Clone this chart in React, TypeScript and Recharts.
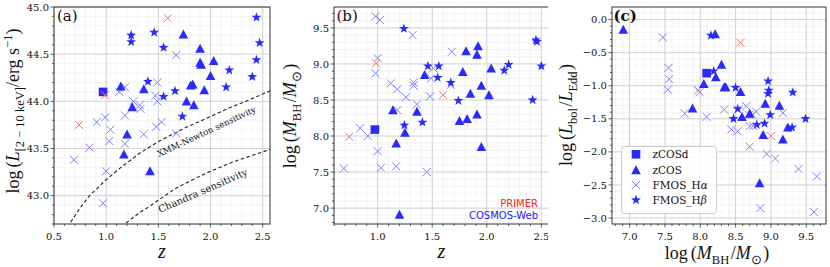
import React from 'react';
import { ScatterChart, Scatter, XAxis, YAxis, CartesianGrid, Customized } from 'recharts';

type Pt = [number, number];

// ---- panel (a): z vs log L_[2-10 keV]
const aSquare: Pt[] = [[0.97, 44.1]];
const aTriangle: Pt[] = [
  [1.74, 44.71], [1.9, 44.56], [1.9, 44.41], [1.91, 44.39], [2.03, 44.43], [2.0, 44.27],
  [1.81, 44.17], [1.83, 44.18], [1.94, 44.12], [1.77, 44.0], [1.84, 43.96], [1.14, 44.16],
  [1.36, 44.13], [1.25, 43.94], [1.2, 43.65], [1.17, 43.44], [1.42, 43.26],
];
const aStar: Pt[] = [
  [1.24, 44.7], [1.24, 44.63], [1.46, 44.73], [1.55, 44.57], [1.4, 44.21], [1.55, 44.05],
  [1.66, 44.11], [1.73, 43.84], [2.44, 44.89], [2.47, 44.62], [2.44, 44.44], [2.18, 44.33],
  [2.4, 44.26], [2.15, 44.15],
];
const aCross: Pt[] = [
  [1.67, 44.49], [1.18, 44.15], [1.125, 44.1], [1.26, 44.0], [1.47, 44.06], [1.49, 44.0],
  [1.49, 44.2], [1.32, 43.96], [1.33, 43.92], [1.18, 43.85], [0.99, 43.83], [0.91, 43.78],
  [1.04, 43.7], [1.36, 43.65], [1.48, 43.73], [1.53, 43.78], [1.67, 43.66], [0.84, 43.51],
  [1.03, 43.58], [1.18, 43.55], [0.69, 43.38], [1.0, 43.26], [0.97, 42.92],
];
const aRed: Pt[] = [[0.74, 43.75], [0.99, 44.065], [1.59, 44.88]];
const xmmLimit: Pt[] = [
  [0.66, 42.72], [0.75, 42.87], [0.84, 43.0], [1.0, 43.17], [1.13, 43.29], [1.32, 43.45],
  [1.51, 43.58], [1.74, 43.71], [2.0, 43.84], [2.2, 43.94], [2.38, 44.02], [2.57, 44.11],
];
const chandraLimit: Pt[] = [
  [1.19, 42.71], [1.32, 42.82], [1.42, 42.89], [1.51, 42.96], [1.67, 43.08], [1.74, 43.12],
  [1.96, 43.24], [2.22, 43.36], [2.57, 43.49],
];

// ---- panel (b): z vs log M_BH
const bSquare: Pt[] = [[0.975, 8.09]];
const bTriangle: Pt[] = [
  [1.81, 9.18], [1.92, 9.25], [1.91, 9.13], [1.78, 8.89], [2.04, 8.94], [1.43, 8.85],
  [1.95, 8.7], [1.85, 8.59], [2.02, 8.57], [1.14, 8.36], [1.36, 8.34], [1.75, 8.21],
  [1.82, 8.24], [1.91, 8.3], [1.25, 8.05], [1.17, 7.9], [1.95, 7.85], [1.2, 6.91],
];
const bStar: Pt[] = [
  [1.24, 9.49], [1.46, 8.97], [1.56, 8.97], [1.55, 8.81], [1.245, 8.15], [1.41, 8.19],
  [1.67, 8.74], [1.74, 8.49], [2.45, 9.33], [2.46, 9.31], [2.16, 8.91], [2.2, 8.99],
  [2.42, 8.5], [2.5, 8.97],
];
const bCross: Pt[] = [
  [0.98, 9.66], [1.02, 9.61], [1.32, 9.4], [1.0, 9.08], [0.98, 8.87], [1.12, 8.73],
  [1.18, 8.65], [1.33, 8.74], [1.33, 8.7], [1.26, 8.54], [1.36, 8.44], [1.18, 8.36],
  [1.68, 9.17], [1.51, 8.94], [1.49, 8.8], [1.67, 8.71], [1.48, 8.55], [0.84, 8.11],
  [0.91, 8.0], [1.0, 7.79], [0.69, 7.55], [1.03, 7.56], [1.17, 7.58], [1.45, 7.5],
];
const bRed: Pt[] = [[0.74, 7.99], [0.985, 9.01], [1.6, 8.57]];

// ---- panel (c): log M_BH vs log Eddington ratio
const cSquare: Pt[] = [[8.09, -0.81]];
const cTriangle: Pt[] = [
  [6.91, -0.15], [8.21, -0.22], [8.3, -0.68], [8.05, -0.97], [8.22, -0.87], [8.34, -1.02],
  [8.36, -1.02], [8.57, -1.09], [7.89, -1.34], [8.59, -1.47], [8.7, -1.42], [8.92, -1.27],
  [9.12, -1.3], [9.24, -1.63], [9.17, -1.81], [8.89, -1.74], [8.84, -2.47],
];
const cStar: Pt[] = [
  [8.15, -0.24], [8.19, -0.78], [8.5, -1.03], [8.47, -1.5], [8.53, -1.35], [8.8, -1.59],
  [8.91, -1.57], [8.96, -0.93], [8.97, -1.07], [8.96, -1.12], [8.99, -1.44], [9.31, -1.1],
  [9.3, -1.63], [9.49, -1.5],
];
const cCross: Pt[] = [
  [7.47, -0.27], [7.55, -0.73], [7.56, -0.9], [7.54, -1.06], [7.97, -1.07], [8.09, -1.47],
  [7.78, -1.42], [8.34, -1.36], [8.44, -1.66], [8.53, -1.69], [8.65, -1.31], [8.69, -1.44],
  [8.74, -1.44], [8.7, -1.61], [8.75, -1.61], [8.79, -1.39], [9.17, -1.41], [8.7, -1.92],
  [8.94, -2.03], [9.06, -2.1], [9.39, -2.26], [9.65, -2.37], [8.85, -2.85], [9.61, -2.91],
  [8.53, -1.36],
];
const cRed: Pt[] = [[7.99, -1.1], [8.57, -0.35], [9.0, -1.76]];

// axes
const aXDomain: [number, number] = [0.5, 2.57];
const aYDomain: [number, number] = [42.7, 45.0];
const bXDomain: [number, number] = [0.6, 2.57];
const bYDomain: [number, number] = [6.78, 9.79];
const cXDomain: [number, number] = [6.75, 9.78];
const cYDomain: [number, number] = [-3.09, 0.19];

const aXMajor = [0.5, 1.0, 1.5, 2.0, 2.5];
const aYMajor = [43.0, 43.5, 44.0, 44.5, 45.0];
const bXMajor = [1.0, 1.5, 2.0, 2.5];
const bYMajor = [7.0, 7.5, 8.0, 8.5, 9.0, 9.5];
const cXMajor = [7.0, 7.5, 8.0, 8.5, 9.0, 9.5];
const cYMajor = [-3.0, -2.5, -2.0, -1.5, -1.0, -0.5, 0.0];

const legendLabels = ['zCOSd', 'zCOS', 'FMOS_H', 'FMOS_H'];

const BLUE = '#2a2aff';
const LIGHT = '#7f7fff';
const RED = '#ff7070';
const SERIF = 'DejaVu Serif';
const MATH = 'Liberation Serif';

// minor ticks every 0.1 inside a domain
const minorTicks = (d: [number, number]) => {
  const out: number[] = [];
  for (let i = Math.ceil(d[0] * 10 - 1e-6); i <= Math.floor(d[1] * 10 + 1e-6); i++) out.push(i / 10);
  return out;
};

const toData = (pts: Pt[]) => pts.map(([x, y]) => ({ x, y }));
const isMajor = (v: number, majors: number[]) => majors.some((m) => Math.abs(m - v) < 1e-6);
const fmt = (v: number) => (v < 0 ? '\u2212' + Math.abs(v).toFixed(1) : v.toFixed(1));

const Triangle = ({ cx, cy }: any) => (
  <polygon points={`${cx},${cy - 4.8} ${cx - 4.8},${cy + 4.2} ${cx + 4.8},${cy + 4.2}`} fill={BLUE} />
);
const Square = ({ cx, cy }: any) => <rect x={cx - 4.3} y={cy - 4.3} width={8.6} height={8.6} fill={BLUE} />;
const Star = ({ cx, cy }: any) => {
  const pts: string[] = [];
  for (let i = 0; i < 10; i++) {
    const r = i % 2 === 0 ? 5.2 : 2.1;
    const a = -Math.PI / 2 + (i * Math.PI) / 5;
    pts.push(`${cx + r * Math.cos(a)},${cy + r * Math.sin(a)}`);
  }
  return <polygon points={pts.join(' ')} fill={BLUE} />;
};
const Cross = ({ cx, cy, color }: any) => (
  <g stroke={color || LIGHT} strokeWidth={1}>
    <line x1={cx - 4} y1={cy - 4} x2={cx + 4} y2={cy + 4} />
    <line x1={cx - 4} y1={cy + 4} x2={cx + 4} y2={cy - 4} />
  </g>
);
const RedCross = (p: any) => <Cross {...p} color={RED} />;
const NoDot = () => <g />;

const XTick = ({ x, y, payload, majors }: any) => {
  const major = isMajor(payload.value, majors);
  return (
    <g>
      <line x1={x} x2={x} y1={y} y2={y + (major ? 3.5 : 2)} stroke="#333" strokeWidth={0.8} />
      {major && (
        <text x={x} y={y + 15.5} textAnchor="middle" fontSize={10} fontFamily={SERIF} fill="#111">
          {fmt(payload.value)}
        </text>
      )}
    </g>
  );
};
const YTick = ({ x, y, payload, majors }: any) => {
  const major = isMajor(payload.value, majors);
  return (
    <g>
      <line x1={x} x2={x - (major ? 3.5 : 2)} y1={y} y2={y} stroke="#333" strokeWidth={0.8} />
      {major && (
        <text x={x - 5} y={y + 3.6} textAnchor="end" fontSize={10} fontFamily={SERIF} fill="#111">
          {fmt(payload.value)}
        </text>
      )}
    </g>
  );
};

const scaleOf = (axis: any, v: number, fallback: number) => {
  const s = axis?.scale;
  const r = typeof s === 'function' ? s(v) : s && typeof s.map === 'function' ? s.map(v) : NaN;
  return Number.isFinite(r) ? r : fallback;
};
const vGrid = (vals: number[], d: [number, number]) => ({ xAxis, offset }: any) =>
  vals.map((v) => scaleOf(xAxis, v, offset.left + ((v - d[0]) / (d[1] - d[0])) * offset.width));
const hGrid = (vals: number[], d: [number, number]) => ({ yAxis, offset }: any) =>
  vals.map((v) => scaleOf(yAxis, v, offset.top + ((d[1] - v) / (d[1] - d[0])) * offset.height));

type PanelProps = {
  left: number;
  width: number;
  plotLeft: number;
  marginRight: number;
  xDomain: [number, number];
  yDomain: [number, number];
  xMajor: number[];
  yMajor: number[];
  square: Pt[];
  triangle: Pt[];
  star: Pt[];
  cross: Pt[];
  red: Pt[];
  extra?: React.ReactNode;
  overlay: React.ReactNode;
};

function Panel(p: PanelProps) {
  const xMinor = minorTicks(p.xDomain);
  const yMinor = minorTicks(p.yDomain);
  return (
    <div style={{ position: 'absolute', left: p.left, top: 0 }}>
      <ScatterChart width={p.width} height={267} margin={{ top: 7, right: p.marginRight, bottom: 0, left: 0 }}>
        <CartesianGrid
          stroke="#ececec"
          strokeWidth={0.6}
          verticalCoordinatesGenerator={vGrid(xMinor, p.xDomain)}
          horizontalCoordinatesGenerator={hGrid(yMinor, p.yDomain)}
        />
        <CartesianGrid
          stroke="#cfcfcf"
          strokeWidth={0.9}
          verticalCoordinatesGenerator={vGrid(p.xMajor, p.xDomain)}
          horizontalCoordinatesGenerator={hGrid(p.yMajor, p.yDomain)}
        />
        <XAxis
          type="number"
          dataKey="x"
          domain={p.xDomain}
          allowDataOverflow
          ticks={xMinor}
          interval={0}
          height={43}
          axisLine={false}
          tickLine={false}
          tickSize={0}
          tickMargin={0}
          tick={(t: any) => <XTick {...t} majors={p.xMajor} />}
        />
        <YAxis
          type="number"
          dataKey="y"
          domain={p.yDomain}
          allowDataOverflow
          ticks={yMinor}
          interval={0}
          width={p.plotLeft}
          axisLine={false}
          tickLine={false}
          tickSize={0}
          tickMargin={0}
          tick={(t: any) => <YTick {...t} majors={p.yMajor} />}
        />
        {p.extra}
        <Scatter data={toData(p.cross)} shape={Cross} isAnimationActive={false} />
        <Scatter data={toData(p.star)} shape={Star} isAnimationActive={false} />
        <Scatter data={toData(p.triangle)} shape={Triangle} isAnimationActive={false} />
        <Scatter data={toData(p.square)} shape={Square} isAnimationActive={false} />
        <Scatter data={toData(p.red)} shape={RedCross} isAnimationActive={false} />
        <Customized component={() => <g>{p.overlay}</g>} />
      </ScatterChart>
    </div>
  );
}

const frame = (x: number, w: number) => (
  <rect x={x} y={7} width={w} height={217} fill="none" stroke="#333" strokeWidth={1} />
);

const Sub = ({ children }: any) => (
  <>
    <tspan fontSize={12.5} dy={4.5}>{children}</tspan>
    <tspan dy={-4.5}>{'\u200a'}</tspan>
  </>
);

const MbhText = () => (
  <>
    <tspan>log</tspan>
    <tspan dx={3}>(</tspan>
    <tspan fontStyle="italic">M</tspan>
    <Sub>BH</Sub>
    <tspan>/</tspan>
    <tspan fontStyle="italic">M</tspan>
    <Sub>{'\u2299'}</Sub>
    <tspan>)</tspan>
  </>
);

const overlayA = (
  <g>
    {frame(54, 216)}
    <text x={57} y={21} fontSize={15} fontFamily={SERIF} fill="#111">(a)</text>
    <text transform="translate(159,157) rotate(-25)" fontSize={8.6} fontFamily={SERIF} fill="#111">
      XMM-Newton sensitivity
    </text>
    <text transform="translate(160,213) rotate(-23.5)" fontSize={9.8} fontFamily={SERIF} fill="#111">
      Chandra sensitivity
    </text>
    <text transform="translate(19,111) rotate(-90)" textAnchor="middle" fontSize={18} fontFamily={MATH} fill="#111">
      <tspan>log</tspan>
      <tspan dx={3}>(</tspan>
      <tspan fontStyle="italic">L</tspan>
      <tspan fontSize={12.5} dy={4.5}>[2 {'\u2212'} 10 keV]</tspan>
      <tspan dy={-4.5}>/erg s</tspan>
      <tspan fontSize={12.5} dy={-7}>{'\u2212'}1</tspan>
      <tspan dy={7}>)</tspan>
    </text>
    <text x={162} y={258} textAnchor="middle" fontSize={20} fontStyle="italic" fontFamily={MATH} fill="#111">z</text>
  </g>
);

const overlayB = (
  <g>
    {frame(54, 215)}
    <text x={56.5} y={21} fontSize={15} fontFamily={SERIF} fill="#111">(b)</text>
    <text x={258} y={207} textAnchor="end" fontSize={10} fontFamily="DejaVu Sans" fill="#ff2020">PRIMER</text>
    <text x={258} y={219} textAnchor="end" fontSize={10} fontFamily="DejaVu Sans" fill="#2020ff">COSMOS-Web</text>
    <text transform="translate(16,116) rotate(-90)" textAnchor="middle" fontSize={18} fontFamily={MATH} fill="#111">
      <MbhText />
    </text>
    <text x={161.5} y={258} textAnchor="middle" fontSize={20} fontStyle="italic" fontFamily={MATH} fill="#111">z</text>
  </g>
);

const legendRowY = [154.3, 170, 185, 200];
const legendShapes = [Square, Triangle, Cross, Star];

const overlayC = (
  <g>
    {frame(64, 214)}
    <text x={65.5} y={21} fontSize={15} fontWeight="bold" fontFamily={SERIF} fill="#111">(c)</text>
    <rect x={73.5} y={146.5} width={95} height={67} rx={3} fill="#fff" fillOpacity={0.85} stroke="#cccccc" />
    {legendLabels.map((lab, i) => {
      const Shape = legendShapes[i];
      return (
        <g key={lab + i}>
          <Shape cx={88} cy={legendRowY[i]} />
          <text x={104.5} y={legendRowY[i] + 3.8} fontSize={10.5} fontFamily={SERIF} fill="#111">
            {lab}
            {i >= 2 && <tspan fontStyle="italic">{i === 2 ? '\u03b1' : '\u03b2'}</tspan>}
          </text>
        </g>
      );
    })}
    <text transform="translate(24,115) rotate(-90)" textAnchor="middle" fontSize={18} fontFamily={MATH} fill="#111">
      <tspan>log</tspan>
      <tspan dx={3}>(</tspan>
      <tspan fontStyle="italic">L</tspan>
      <Sub>bol</Sub>
      <tspan>/</tspan>
      <tspan fontStyle="italic">L</tspan>
      <Sub>Edd</Sub>
      <tspan>)</tspan>
    </text>
    <text x={169} y={259} textAnchor="middle" fontSize={18} fontFamily={MATH} fill="#111">
      <MbhText />
    </text>
  </g>
);

const limitLine = { stroke: '#222', strokeWidth: 1.1, strokeDasharray: '3.5 2.5' };

export default function App() {
  return (
    <div style={{ position: 'absolute', left: 0, top: 0, width: 830, height: 267, background: '#fff' }}>
      <Panel
        left={0}
        width={280}
        plotLeft={54}
        marginRight={10}
        xDomain={aXDomain}
        yDomain={aYDomain}
        xMajor={aXMajor}
        yMajor={aYMajor}
        square={aSquare}
        triangle={aTriangle}
        star={aStar}
        cross={aCross}
        red={aRed}
        extra={[
          <Scatter key="xmm" data={toData(xmmLimit)} line={limitLine} lineType="joint" shape={NoDot} isAnimationActive={false} />,
          <Scatter key="chandra" data={toData(chandraLimit)} line={limitLine} lineType="joint" shape={NoDot} isAnimationActive={false} />,
        ]}
        overlay={overlayA}
      />
      <Panel
        left={280}
        width={268}
        plotLeft={54}
        marginRight={-1}
        xDomain={bXDomain}
        yDomain={bYDomain}
        xMajor={bXMajor}
        yMajor={bYMajor}
        square={bSquare}
        triangle={bTriangle}
        star={bStar}
        cross={bCross}
        red={bRed}
        overlay={overlayB}
      />
      <Panel
        left={548}
        width={282}
        plotLeft={64}
        marginRight={4}
        xDomain={cXDomain}
        yDomain={cYDomain}
        xMajor={cXMajor}
        yMajor={cYMajor}
        square={cSquare}
        triangle={cTriangle}
        star={cStar}
        cross={cCross}
        red={cRed}
        overlay={overlayC}
      />
    </div>
  );
}
